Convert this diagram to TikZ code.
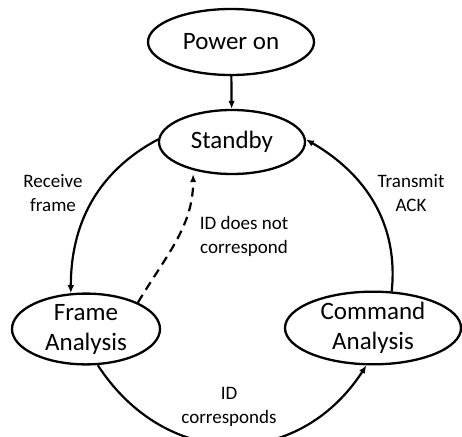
\documentclass[tikz,border=0pt]{standalone}
\usepackage{fontspec}
\setmainfont{Carlito}
\usetikzlibrary{shapes.geometric,arrows.meta}
\begin{document}
\begin{tikzpicture}[x=1pt,y=1pt,
  state/.style={ellipse,draw,line width=2.3pt,inner sep=0pt,align=center,font=\fontsize{25}{30}\selectfont},
  lbl/.style={align=center,inner sep=0pt,font=\fontsize{19}{24}\selectfont},
  conn/.style={line width=2.2pt,-{Latex[length=8pt,width=6.5pt]}},
  dashconn/.style={conn,dash pattern=on 9pt off 6pt},
]
\useasboundingbox (0,0) rectangle (462,-436);
\node[state,minimum width=166pt,minimum height=66pt] (power) at (231,-42) {Power on};
\node[state,minimum width=146pt,minimum height=64pt] (standby) at (232,-142) {Standby};
\node[state,minimum width=148pt,minimum height=68pt] (frame) at (86,-329) {Frame\\Analysis};
\node[state,minimum width=176pt,minimum height=70pt] (command) at (373,-328) {Command\\Analysis};

\node[lbl] (recv) at (53,-193) {Receive\\frame};
\node[lbl] (tx) at (411,-193) {Transmit\\ACK};
\node[lbl] (idnot) at (244,-236) {ID does not\\correspond};
\node[lbl] (idyes) at (229,-407) {ID\\corresponds};

\draw[conn] (power) -- (standby);
\draw[conn] (standby.178) to[out=208,in=90] (frame.113);
\draw[conn] (command.63) to[out=84,in=-30] (standby.2);
\draw[conn] (frame.-72) to[out=-57,in=-123,looseness=1.2] (command.-100);
\draw[dashconn,shorten >=4pt] (frame.27) to[out=59,in=-90] (standby.216);
\end{tikzpicture}
\end{document}
